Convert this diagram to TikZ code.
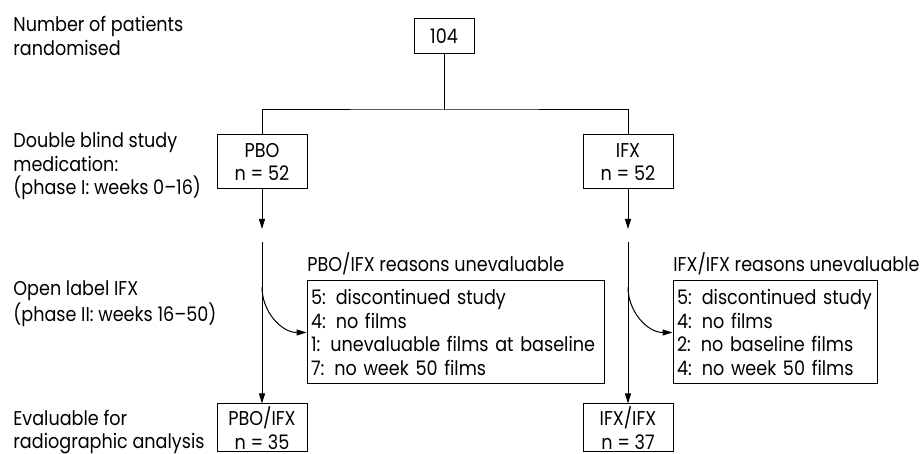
\documentclass[tikz,border=0pt]{standalone}
\usepackage{fontspec}
\setmainfont[FakeStretch=0.88]{Poppins}
\usetikzlibrary{arrows.meta}
\hyphenpenalty=10000
\exhyphenpenalty=10000
\begin{document}
\begin{tikzpicture}[x=0.5pt,y=-0.5pt,
  every node/.style={font=\fontsize{10}{11.75}\selectfont, inner sep=0pt},
  box/.style={draw, line width=0.5pt, align=center, minimum width=45pt, minimum height=27pt},
  rbox/.style={draw, line width=0.5pt, align=left, minimum height=51.5pt, text width=#1, inner xsep=2pt},
  lbl/.style={anchor=west, align=left},
  conn/.style={line width=0.5pt},
  arr/.style={line width=0.5pt, -{Triangle[length=5pt,width=3pt]}}]
\useasboundingbox (0,0) rectangle (922,454);
% left labels
\node[lbl] (l1) at (13,36) {Number of patients\\randomised};
\node[lbl] (l2) at (13,166) {Double blind study\\medication:\\(phase I: weeks 0--16)};
\node[lbl] (l3) at (13,304) {Open label IFX\\(phase II: weeks 16--50)};
\node[lbl] (l4) at (13,432) {Evaluable for\\radiographic analysis};
% boxes
\node[draw, line width=0.5pt, minimum width=30pt, minimum height=17.5pt] (n104) at (444,36.5) {104};
\node[box] (pbo) at (262,162) {PBO\\n = 52};
\node[box] (ifx) at (628,162) {IFX\\n = 52};
\node[box, minimum height=24pt] (pboifx) at (262,428) {PBO/IFX\\n = 35};
\node[box, minimum height=24pt] (ifxifx) at (628,428) {IFX/IFX\\n = 37};
\node[rbox=144.5pt] (r1) at (455.5,332.5) {5: discontinued study\\4: no films\\1: unevaluable films at baseline\\7: no week 50 films};
\node[rbox=98pt] (r2) at (775,332.5) {5: discontinued study\\4: no films\\2: no baseline films\\4: no week 50 films};
\node[anchor=west] (t1) at (307,264) {PBO/IFX reasons unevaluable};
\node[anchor=west] (t2) at (673,264) {IFX/IFX reasons unevaluable};
% connectors
\coordinate (split) at (444,110);
\draw[conn] (n104.south) -- (split);
\draw[conn] (pbo.north) |- (split) -| (ifx.north);
\coordinate (a1) at (262,229);
\coordinate (b1) at (262,242);
\coordinate (c1) at (262,287);
\coordinate (a2) at (628,229);
\coordinate (b2) at (628,242);
\coordinate (c2) at (628,287);
\draw[arr] (pbo.south) -- (a1);
\draw[arr] (b1) -- (pboifx.north);
\draw[arr] (c1) to[out=-90,in=180] (r1.west);
\draw[arr] (ifx.south) -- (a2);
\draw[arr] (b2) -- (ifxifx.north);
\draw[arr] (c2) to[out=-90,in=180] (r2.west);
\end{tikzpicture}
\end{document}
